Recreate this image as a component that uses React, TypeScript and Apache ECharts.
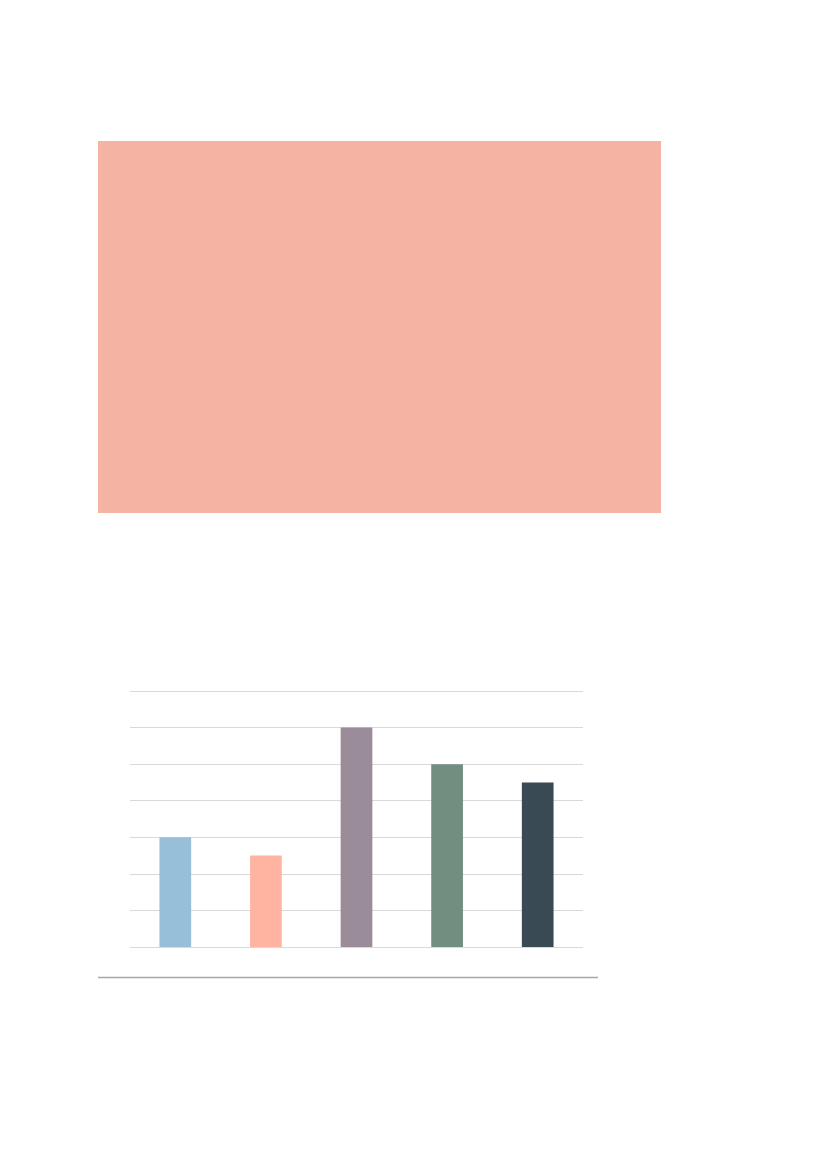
import { useEffect, useRef } from 'react';
import * as echarts from 'echarts';

const categories = ['A', 'B', 'C', 'D', 'E'];
const values = [3, 2.5, 6, 5, 4.5];
const barColors = ['#98BFD9', '#FFB4A2', '#9A8C98', '#718E80', '#3A4A55'];
const yTicks = { min: 0, max: 7, interval: 1 };

export default function App() {
  const containerRef = useRef<HTMLDivElement>(null);

  useEffect(() => {
    if (!containerRef.current) return;
    const chart = echarts.init(containerRef.current, null, { renderer: 'svg' });

    const option: echarts.EChartsOption = {
      animation: false,
      grid: [
        // empty plot panel on top
        {
          left: 98,
          top: 141,
          width: 563,
          height: 372,
          show: true,
          backgroundColor: '#F5B3A4',
          borderWidth: 0
        },
        {
          left: 130,
          top: 691,
          width: 453,
          height: 256,
          show: false
        }
      ],
      xAxis: [
        { gridIndex: 0, type: 'value', show: false },
        {
          gridIndex: 1,
          type: 'category',
          data: categories,
          axisLine: { show: false },
          axisTick: { show: false },
          axisLabel: { show: false }
        }
      ],
      yAxis: [
        { gridIndex: 0, type: 'value', show: false },
        {
          gridIndex: 1,
          type: 'value',
          min: yTicks.min,
          max: yTicks.max,
          interval: yTicks.interval,
          axisLine: { show: false },
          axisTick: { show: false },
          axisLabel: { show: false },
          splitLine: { lineStyle: { color: '#D9D9D9', width: 1 } }
        }
      ],
      series: [
        {
          type: 'bar',
          xAxisIndex: 1,
          yAxisIndex: 1,
          barWidth: '35%',
          data: values.map((v, i) => ({
            value: v,
            itemStyle: { color: barColors[i] }
          }))
        }
      ],
      graphic: [
        {
          type: 'line',
          shape: { x1: 98, y1: 977.5, x2: 598, y2: 977.5 },
          style: { stroke: '#A6A6A6', lineWidth: 1.5 }
        }
      ]
    };

    chart.setOption(option);

    return () => {
      chart.dispose();
    };
  }, []);

  return (
    <div
      ref={containerRef}
      style={{ position: 'absolute', left: 0, top: 0, width: 827, height: 1169 }}
    />
  );
}
